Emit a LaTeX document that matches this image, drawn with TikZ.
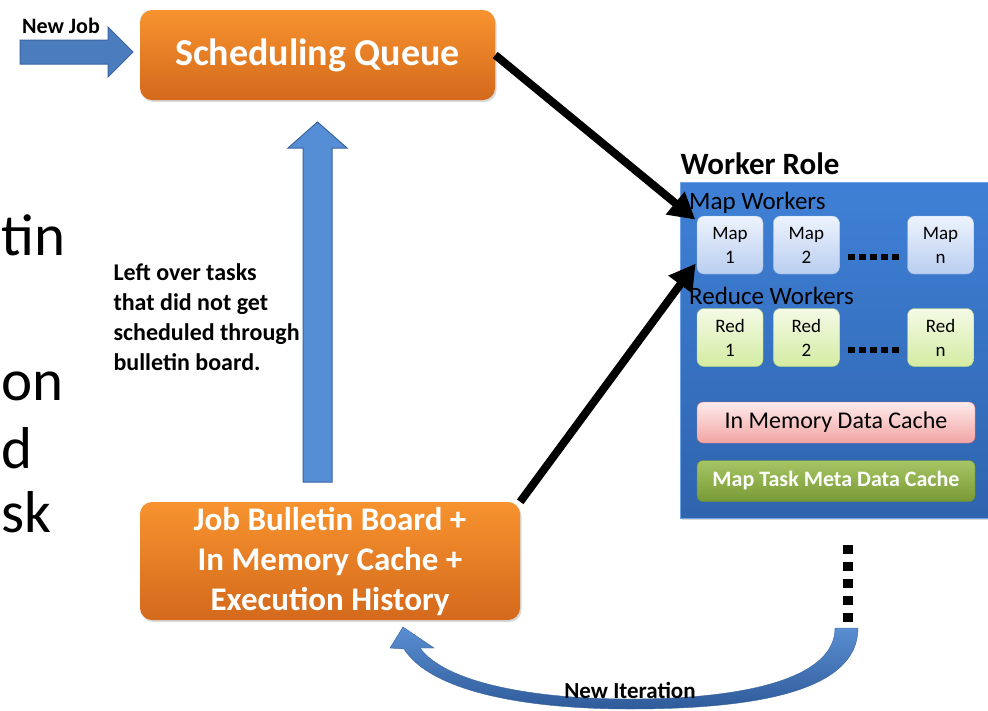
\documentclass[tikz,border=0pt]{standalone}
\usepackage{fontspec}
\setmainfont{Carlito}
\usetikzlibrary{arrows.meta, positioning, shadows}

\definecolor{queueorange}{HTML}{F7932F}
\definecolor{queueorangedark}{HTML}{D4691C}
\definecolor{arrowblue}{HTML}{558ED5}
\definecolor{arrowbluedark}{HTML}{4A7CBE}
\definecolor{arrowblueline}{HTML}{3B64A0}
\definecolor{loopbluetop}{HTML}{5A8FD2}
\definecolor{loopbluebottom}{HTML}{2F5B9A}
\definecolor{workertop}{HTML}{3F80D6}
\definecolor{workerbottom}{HTML}{2F64AE}
\definecolor{workerline}{HTML}{6FA3E6}
\definecolor{maptop}{HTML}{EDF3FD}
\definecolor{mapbottom}{HTML}{B9CEF0}
\definecolor{mapline}{HTML}{9DB7E2}
\definecolor{redtop}{HTML}{F4FAE6}
\definecolor{redbottom}{HTML}{D4ECA2}
\definecolor{redline}{HTML}{B2D27A}
\definecolor{cachetop}{HTML}{FDEBEB}
\definecolor{cachebottom}{HTML}{F3A4A4}
\definecolor{cacheline}{HTML}{DA7272}
\definecolor{metatop}{HTML}{A6C563}
\definecolor{metabottom}{HTML}{789A36}
\definecolor{metaline}{HTML}{6E8C32}

\begin{document}
\begin{tikzpicture}[x=1pt, y=-1pt, >={Triangle[length=26pt, width=28pt]},
    orangebox/.style={rounded corners=12pt, top color=queueorange, bottom color=queueorangedark,
        text=white, align=center, drop shadow={opacity=0.3, shadow xshift=1.5pt, shadow yshift=-2pt}},
    mapbox/.style={draw=mapline, rounded corners=7pt, top color=maptop, bottom color=mapbottom,
        minimum width=66pt, minimum height=58pt, align=center, inner sep=0pt,
        font=\fontsize{19}{24}\selectfont},
    redbox/.style={mapbox, draw=redline, top color=redtop, bottom color=redbottom},
    cachebox/.style={rounded corners=6pt, minimum width=278pt, minimum height=41pt, inner sep=0pt},
    slidetext/.style={anchor=base west, inner sep=0pt, font=\fontsize{59}{66}\selectfont},
    dotrow/.style={line width=6pt, dash pattern=on 7pt off 4pt},
    blockarrow/.style={fill=arrowblue, draw=arrowblueline, line width=1pt},
    bigarrow/.style={->, line width=8pt}]
        \useasboundingbox (0,0) rectangle (988,710);

        % slide text at the left edge
        \node[slidetext] (cuta) at (1,255) {tin};
        \node[slidetext] (cutb) at (1,400) {on};
        \node[slidetext] (cutc) at (1,468) {d};
        \node[slidetext] (cutd) at (1,532) {sk};

        % orange boxes
        \node[orangebox, minimum width=355pt, minimum height=90pt, font=\fontsize{38}{44}\selectfont\bfseries] (queue) at (317.5,55) {Scheduling Queue};
        \node[orangebox, minimum width=380pt, minimum height=118pt, font=\fontsize{33}{40}\selectfont\bfseries] (bulletin) at (330,561) {Job Bulletin Board +\\In Memory Cache +\\Execution History};

        % new job arrow
        \node[font=\fontsize{22}{26}\selectfont\bfseries] (newjob) at (61,26) {New Job};
        \draw[blockarrow, fill=arrowbluedark] (20,40) -- (108,40) -- (108,27) -- (133,52) -- (108,77) -- (108,64) -- (20,64) -- cycle;

        % left over tasks go back up
        \draw[blockarrow] (303,482) -- (303,148) -- (288,148) -- (317.5,122) -- (347,148) -- (332,148) -- (332,482) -- cycle;
        \node[anchor=west, align=left, font=\fontsize{24}{30}\selectfont\bfseries] (leftover) at (110,317) {Left over tasks\\that did not get\\scheduled through\\bulletin board.};

        % worker role
        \node[anchor=west, font=\fontsize{31}{36}\selectfont\bfseries] (workerlabel) at (677,164) {Worker Role};
        \node[anchor=north west, draw=workerline, top color=workertop, bottom color=workerbottom, minimum width=308pt, minimum height=336pt, drop shadow={opacity=0.3, shadow xshift=1.5pt, shadow yshift=-2pt}] (worker) at (680,182) {};

        \node[anchor=west, font=\fontsize{25}{30}\selectfont, inner sep=0pt] (maplabel) at (689,203) {Map Workers};
        \node[mapbox] (map1) at (730,245) {Map\\1};
        \node[mapbox, right=10pt of map1] (map2) {Map\\2};
        \node[mapbox] (mapn) at (940.5,245) {Map\\n};
        \draw[dotrow] (848,257) -- (900,257);

        \node[anchor=west, font=\fontsize{25}{30}\selectfont, inner sep=0pt] (redlabel) at (689,296) {Reduce Workers};
        \node[redbox] (red1) at (730,337.5) {Red\\1};
        \node[redbox, right=10pt of red1] (red2) {Red\\2};
        \node[redbox] (redn) at (940.5,337.5) {Red\\n};
        \draw[dotrow] (848,350) -- (900,350);

        \node[cachebox, draw=cacheline, top color=cachetop, bottom color=cachebottom, font=\fontsize{24}{28}\selectfont] (memcache) at (836,422.5) {In Memory Data Cache};
        \node[cachebox, draw=metaline, top color=metatop, bottom color=metabottom, text=white, font=\fontsize{22}{26}\selectfont\bfseries] (metacache) at (836,481) {Map Task Meta Data Cache};

        % tasks to the map workers
        \draw[bigarrow, shorten >=2pt] (queue.east) -- ([yshift=-5pt]map1.north west);
        \draw[bigarrow, shorten >=2pt] (bulletin.north east) -- ([yshift=-17pt]map1.west);

        % next iteration
        \draw[line width=10pt, dash pattern=on 9pt off 8pt] (848,545) -- (848,622);
        \path[draw=arrowblueline, top color=loopbluetop, bottom color=loopbluebottom]
            (835,628) -- (858,628) .. controls (858,690) and (760,709) .. (630,709)
            .. controls (520,709) and (430,690) .. (404,649) -- (390,648) -- (403,627) -- (434,648) -- (420,648)
            .. controls (445,682) and (530,699) .. (630,699) .. controls (740,699) and (835,680) .. (835,628) -- cycle;
        \node[font=\fontsize{23}{26}\selectfont\bfseries] (iteration) at (630,690) {New Iteration};
    \end{tikzpicture}
\end{document}
